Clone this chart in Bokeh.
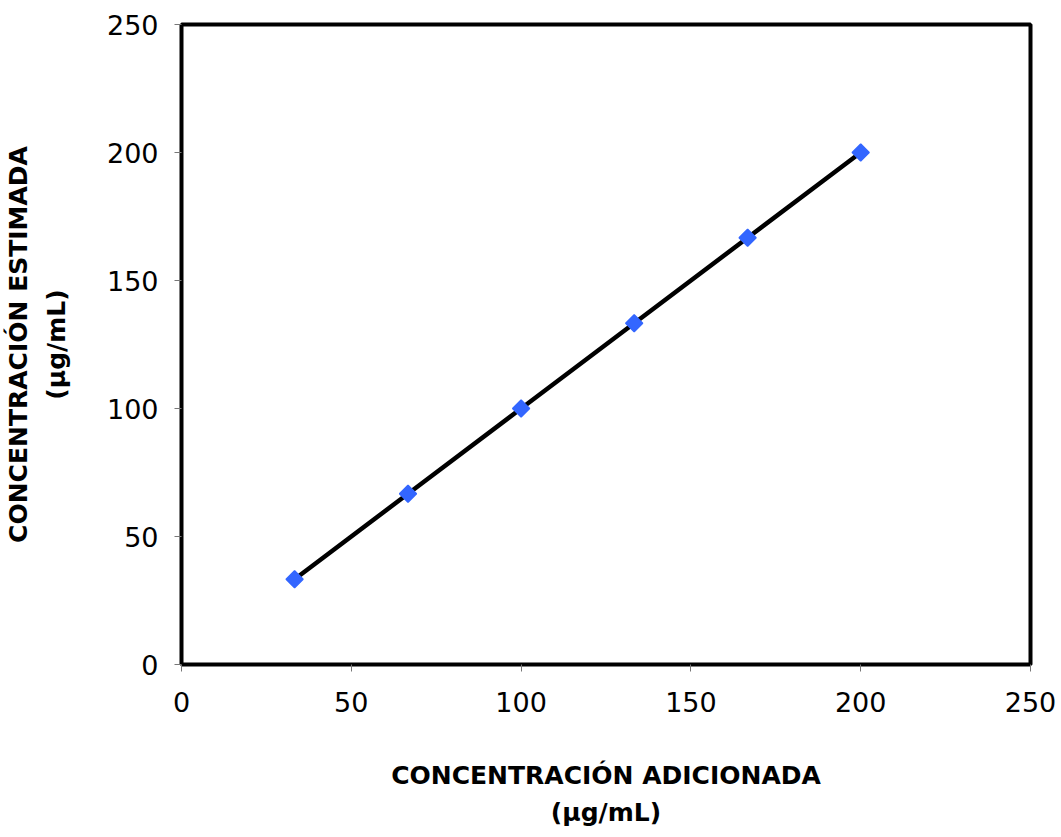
import math
from bokeh.plotting import figure
from bokeh.models import Range1d, FixedTicker
from bokeh.embed import file_html
from bokeh.resources import INLINE

# data
added = [33.3, 66.7, 100.0, 133.3, 166.7, 200.0]
estimated = [33.3, 66.7, 100.0, 133.3, 166.7, 200.0]
x_ticks = [0, 50, 100, 150, 200, 250]
y_ticks = [0, 50, 100, 150, 200, 250]

p = figure(width=1061, height=837, output_backend="svg", toolbar_location=None,
           x_range=Range1d(0, 250), y_range=Range1d(0, 250),
           min_border_left=181, min_border_right=31, min_border_top=24, min_border_bottom=173)
p.background_fill_color = "white"
p.border_fill_color = "white"
p.outline_line_color = "black"
p.outline_line_width = 4
p.xgrid.visible = False
p.ygrid.visible = False

p.line(added, estimated, line_color="black", line_width=4.5)
p.scatter(added, estimated, marker="square", size=12, angle=math.pi / 4,
          fill_color="#3366FF", line_color="#3366FF", line_width=1.5)

for ax, ticks in ((p.xaxis, x_ticks), (p.yaxis, y_ticks)):
    ax.ticker = FixedTicker(ticks=ticks)
    ax.axis_line_color = "black"
    ax.axis_line_width = 2
    ax.major_tick_line_color = "#777777"
    ax.major_tick_line_width = 1
    ax.major_tick_out = 7
    ax.major_tick_in = 0
    ax.minor_tick_line_color = None
    ax.major_label_text_font = "DejaVu Sans"
    ax.major_label_text_font_size = "27px"
    ax.major_label_text_color = "black"
    ax.axis_label_text_font = "DejaVu Sans"
    ax.axis_label_text_font_style = "bold"
    ax.axis_label_text_font_size = "25px"
    ax.axis_label_text_color = "black"

p.xaxis.major_label_standoff = 20
p.yaxis.major_label_standoff = 16
p.xaxis.axis_label = "CONCENTRACIÓN ADICIONADA\n(µg/mL)"
p.yaxis.axis_label = "CONCENTRACIÓN ESTIMADA\n(µg/mL)"
p.xaxis.axis_label_text_line_height = 1.3
p.yaxis.axis_label_text_line_height = 1.3
p.xaxis.axis_label_standoff = 46
p.yaxis.axis_label_standoff = 33

open("out.html", "w").write(file_html(p, INLINE))
